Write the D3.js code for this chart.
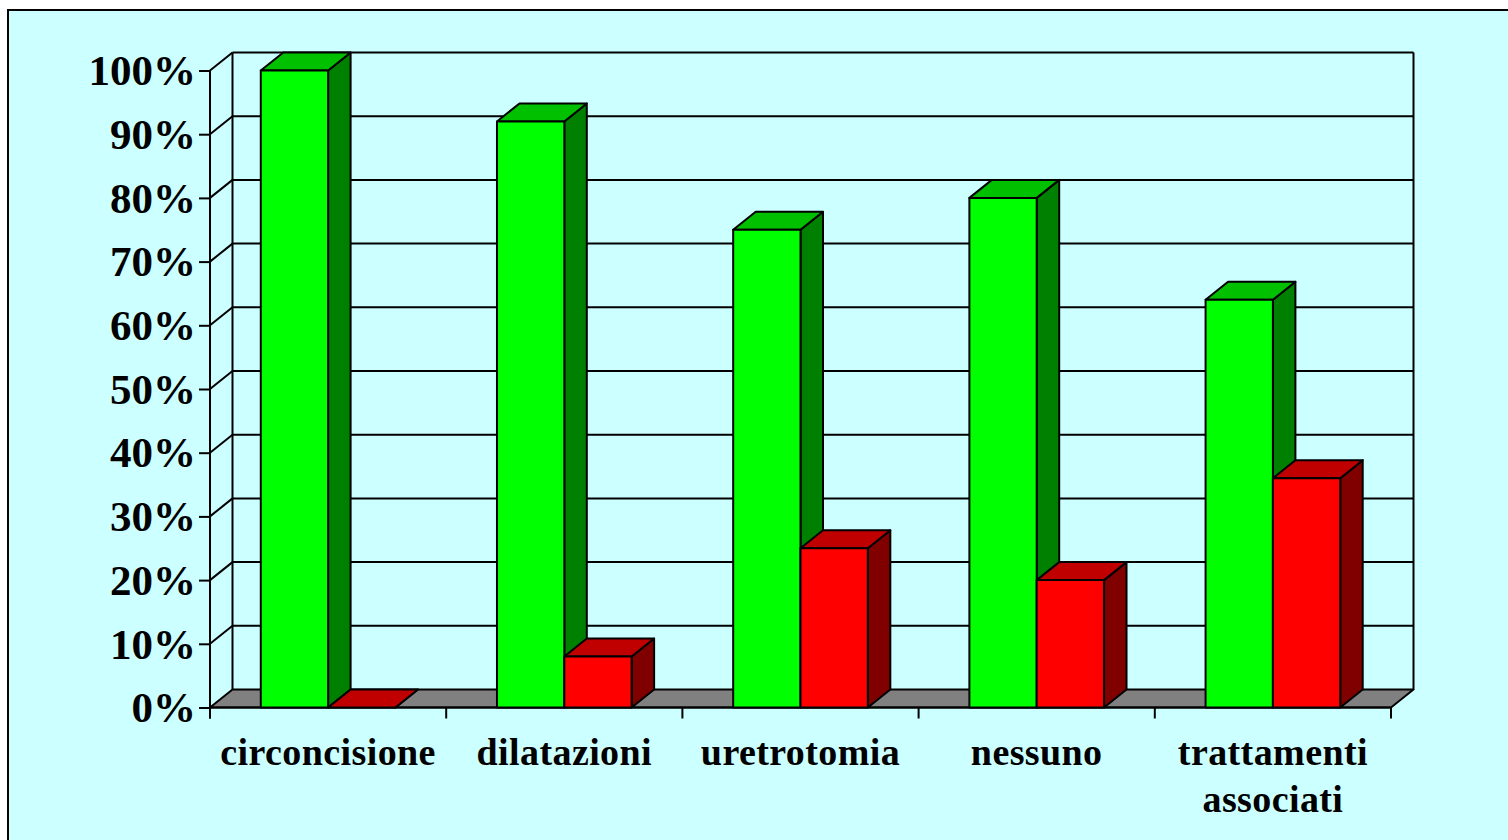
<!DOCTYPE html>
<html>
<head>
<meta charset="utf-8">
<script src="https://cdn.jsdelivr.net/npm/d3@7"></script>
<style>
  body { margin: 0; background: #ffffff; }
  svg { display: block; }
</style>
</head>
<body>
<script>
// chart data
var categories = ["circoncisione", "dilatazioni", "uretrotomia", "nessuno", "trattamenti\nassociati"];
var greenValues = [100, 92, 75, 80, 64];
var redValues = [0, 8, 25, 20, 36];
var yTicks = [0, 10, 20, 30, 40, 50, 60, 70, 80, 90, 100];

// look
var width = 1508, height = 840;
var bgColor = "#ccffff";
var floorColor = "#808080";
var greenFront = "#00ff00", greenTop = "#00c000", greenSide = "#008000";
var redFront = "#ff0000", redTop = "#c00000", redSide = "#800000";
var lineW = 2;
var depthX = 22.5, depthY = -18;   // 3d offset of the back wall
var serif = "'Liberation Serif', 'Times New Roman', serif";

var svg = d3.select("body").append("svg")
    .attr("width", width)
    .attr("height", height);

// outer frame
svg.append("rect")
    .attr("x", 8).attr("y", 10)
    .attr("width", width + 20).attr("height", height + 20)
    .attr("fill", bgColor)
    .attr("stroke", "#000").attr("stroke-width", lineW);

var x = d3.scaleBand().domain(categories).range([210, 1391]);
var y = d3.scaleLinear().domain([0, 100]).range([707.5, 70.5]);

var g = svg.append("g");
var x0 = x.range()[0], x1 = x.range()[1];

// back wall gridlines
g.selectAll("line.grid")
    .data(yTicks.filter(function(d) { return d > 0; }))
    .enter().append("line")
    .attr("x1", x0 + depthX).attr("x2", x1 + depthX)
    .attr("y1", function(d) { return y(d) + depthY; })
    .attr("y2", function(d) { return y(d) + depthY; })
    .attr("stroke", "#000").attr("stroke-width", lineW);

// side wall diagonals
g.selectAll("line.diag")
    .data(yTicks.filter(function(d) { return d > 0; }))
    .enter().append("line")
    .attr("x1", x0).attr("x2", x0 + depthX)
    .attr("y1", function(d) { return y(d); })
    .attr("y2", function(d) { return y(d) + depthY; })
    .attr("stroke", "#000").attr("stroke-width", lineW);

// wall verticals
[x0 + depthX, x1 + depthX].forEach(function(xx) {
  g.append("line")
    .attr("x1", xx).attr("x2", xx)
    .attr("y1", y(100) + depthY).attr("y2", y(0) + depthY)
    .attr("stroke", "#000").attr("stroke-width", lineW);
});

// floor
g.append("path")
    .attr("d", d3.line()([[x0, y(0)], [x1, y(0)], [x1 + depthX, y(0) + depthY], [x0 + depthX, y(0) + depthY]]) + "Z")
    .attr("fill", floorColor)
    .attr("stroke", "#000").attr("stroke-width", lineW)
    .attr("stroke-linejoin", "round");

// front axis lines
g.append("line")
    .attr("x1", x0).attr("x2", x0)
    .attr("y1", y(100)).attr("y2", y(0) + 11)
    .attr("stroke", "#000").attr("stroke-width", lineW);
g.append("line")
    .attr("x1", x0).attr("x2", x1)
    .attr("y1", y(0)).attr("y2", y(0))
    .attr("stroke", "#000").attr("stroke-width", lineW);

// y axis ticks and labels
var yAxis = d3.axisLeft(y)
    .tickValues(yTicks)
    .tickSize(11)
    .tickPadding(3)
    .tickFormat(function(d) { return d + "%"; });
var ya = svg.append("g").attr("transform", "translate(" + x0 + ",0)").call(yAxis);
ya.select(".domain").remove();
ya.selectAll("line").attr("stroke", "#000").attr("stroke-width", lineW);
ya.selectAll("text")
    .attr("font-family", serif)
    .attr("font-weight", "bold")
    .attr("font-size", 43)
    .attr("fill", "#000")
    .attr("dy", "0.33em");

// x axis ticks (category boundaries)
var bounds = categories.map(function(c) { return x(c); }).concat([x1]);
g.selectAll("line.xtick")
    .data(bounds)
    .enter().append("line")
    .attr("x1", function(d) { return d; }).attr("x2", function(d) { return d; })
    .attr("y1", y(0)).attr("y2", y(0) + 11)
    .attr("stroke", "#000").attr("stroke-width", lineW);

// bars
var barW = x.bandwidth() * 0.285;
var bars = [];
categories.forEach(function(c, i) {
  var cx = x(c) + x.bandwidth() / 2;
  bars.push({ x: cx - barW, v: greenValues[i], front: greenFront, top: greenTop, side: greenSide });
  bars.push({ x: cx, v: redValues[i], front: redFront, top: redTop, side: redSide });
});

var line = d3.line();
bars.forEach(function(b) {
  var xa = b.x, xb = b.x + barW, yt = y(b.v), yb = y(0);
  var bg = g.append("g")
      .attr("stroke", "#000").attr("stroke-width", lineW)
      .attr("stroke-linejoin", "round");
  // side face
  bg.append("path")
      .attr("d", line([[xb, yt], [xb + depthX, yt + depthY], [xb + depthX, yb + depthY], [xb, yb]]) + "Z")
      .attr("fill", b.side);
  // top face
  bg.append("path")
      .attr("d", line([[xa, yt], [xa + depthX, yt + depthY], [xb + depthX, yt + depthY], [xb, yt]]) + "Z")
      .attr("fill", b.top);
  // front face
  if (yb - yt > 0) {
    bg.append("rect")
        .attr("x", xa).attr("y", yt)
        .attr("width", barW).attr("height", yb - yt)
        .attr("fill", b.front);
  }
});

// category labels
var labels = svg.selectAll("text.cat")
    .data(categories)
    .enter().append("text")
    .attr("class", "cat")
    .attr("x", function(d) { return x(d) + x.bandwidth() / 2; })
    .attr("y", 765)
    .attr("text-anchor", "middle")
    .attr("font-family", serif)
    .attr("font-weight", "bold")
    .attr("font-size", 38)
    .attr("letter-spacing", 0.4)
    .attr("fill", "#000");
labels.each(function(d) {
  var t = d3.select(this);
  d.split("\n").forEach(function(part, k) {
    t.append("tspan")
      .attr("x", x(d) + x.bandwidth() / 2)
      .attr("dy", k === 0 ? 0 : 47)
      .text(part);
  });
});
</script>
</body>
</html>
